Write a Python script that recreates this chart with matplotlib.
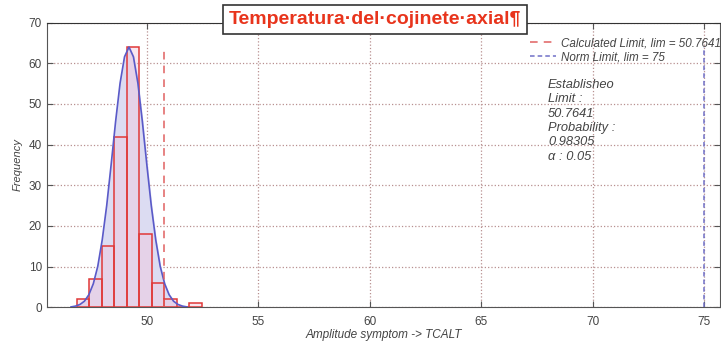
import matplotlib
matplotlib.use("Agg")
import matplotlib.pyplot as plt
import numpy as np

plt.rcParams['font.family'] = ['Liberation Sans', 'DejaVu Sans']

# histogram (bin edges and counts)
bin_edges = [46.86, 47.42, 47.98, 48.54, 49.10, 49.66, 50.22, 50.78, 51.34, 51.90, 52.46]
counts = [2, 7, 15, 42, 64, 18, 6, 2, 0, 1]

# fitted normal curve
curve_x = [46.6, 46.8, 47.0, 47.2, 47.4, 47.6, 47.8, 48.0, 48.2, 48.4, 48.6, 48.8, 49.0,
           49.2, 49.4, 49.6, 49.8, 50.0, 50.2, 50.4, 50.6, 50.8, 51.0, 51.2, 51.4, 51.6, 51.8]
curve_y = [0.1, 0.3, 0.7, 1.5, 3.1, 5.8, 10.1, 16.6, 25.0, 35.1, 45.7, 55.1, 61.6,
           64.0, 61.6, 55.1, 45.7, 35.1, 25.0, 16.6, 10.1, 5.8, 3.1, 1.5, 0.7, 0.3, 0.1]

calc_limit = 50.7641
norm_limit = 75
limit_height = 64
x_ticks = [50, 55, 60, 65, 70, 75]
y_ticks = [0, 10, 20, 30, 40, 50, 60, 70]

title = "Temperatura·del·cojinete·axial¶"
info_text = "Establisheo\nLimit :\n50.7641\nProbability :\n0.98305\nα : 0.05"

fig = plt.figure(figsize=(7.21, 3.43), dpi=100)
ax = fig.add_axes([0.0648, 0.104, 0.934, 0.830])

# curve and shaded area
ax.fill_between(curve_x, curve_y, color='#dcdcf2', zorder=1)
ax.plot(curve_x, curve_y, color='#5a5ac8', lw=1.2, zorder=4)

# bars
widths = np.diff(bin_edges)
ax.bar(bin_edges[:-1], counts, width=widths, align='edge',
       facecolor='#f2c8dc', alpha=0.45, edgecolor='none', zorder=2)
ax.bar(bin_edges[:-1], counts, width=widths, align='edge',
       facecolor='none', edgecolor='#e03838', lw=1.1, zorder=3)

# limit lines
ax.plot([calc_limit, calc_limit], [0, limit_height], ls=(0, (5, 4)), color='#e06060',
        lw=1.1, zorder=5, label='Calculated Limit, lim = 50.7641')
ax.plot([norm_limit, norm_limit], [0, limit_height], ls=(0, (3, 2)), color='#7070c8',
        lw=1.1, zorder=5, label='Norm Limit, lim = 75')

ax.set_xlim(45.51, 75.72)
ax.set_ylim(0, 70)
ax.set_xticks(x_ticks)
ax.set_yticks(y_ticks)
ax.grid(True, ls=':', color='#b89090', lw=0.9)
ax.set_axisbelow(True)
ax.tick_params(direction='in', top=True, right=True, length=4, labelsize=8.5,
               labelcolor='#444444', color='#555555')
ax.tick_params(axis='x', pad=6)
for s in ax.spines.values():
    s.set_color('#555555')
ax.spines['top'].set_color('#333333')

ax.set_xlabel("Amplitude symptom -> TCALT", fontsize=8.5, style='italic',
              color='#444444', labelpad=1)
ax.set_ylabel("Frequency", fontsize=8, style='italic', color='#444444')
ax.yaxis.set_label_coords(-0.035, 0.5)

leg = ax.legend(loc='upper left', bbox_to_anchor=(0.728, 0.905), bbox_transform=fig.transFigure,
                frameon=False, fontsize=8.4, handlelength=2.3, handletextpad=0.4,
                labelspacing=0.15, borderaxespad=0)
for t in leg.get_texts():
    t.set_color('#444444')
    t.set_style('italic')

ax.text(68.0, 56.2, info_text, fontsize=9.3, style='italic', color='#444444',
        va='top', ha='left', linespacing=1.27)

fig.text(0.52, 0.943, title, fontsize=14, fontweight='bold', color='#e8341c',
         ha='center', va='center',
         bbox=dict(boxstyle='square,pad=0.3', facecolor='white', edgecolor='#333333', lw=1.2))

fig.savefig("out.png", dpi=100)
